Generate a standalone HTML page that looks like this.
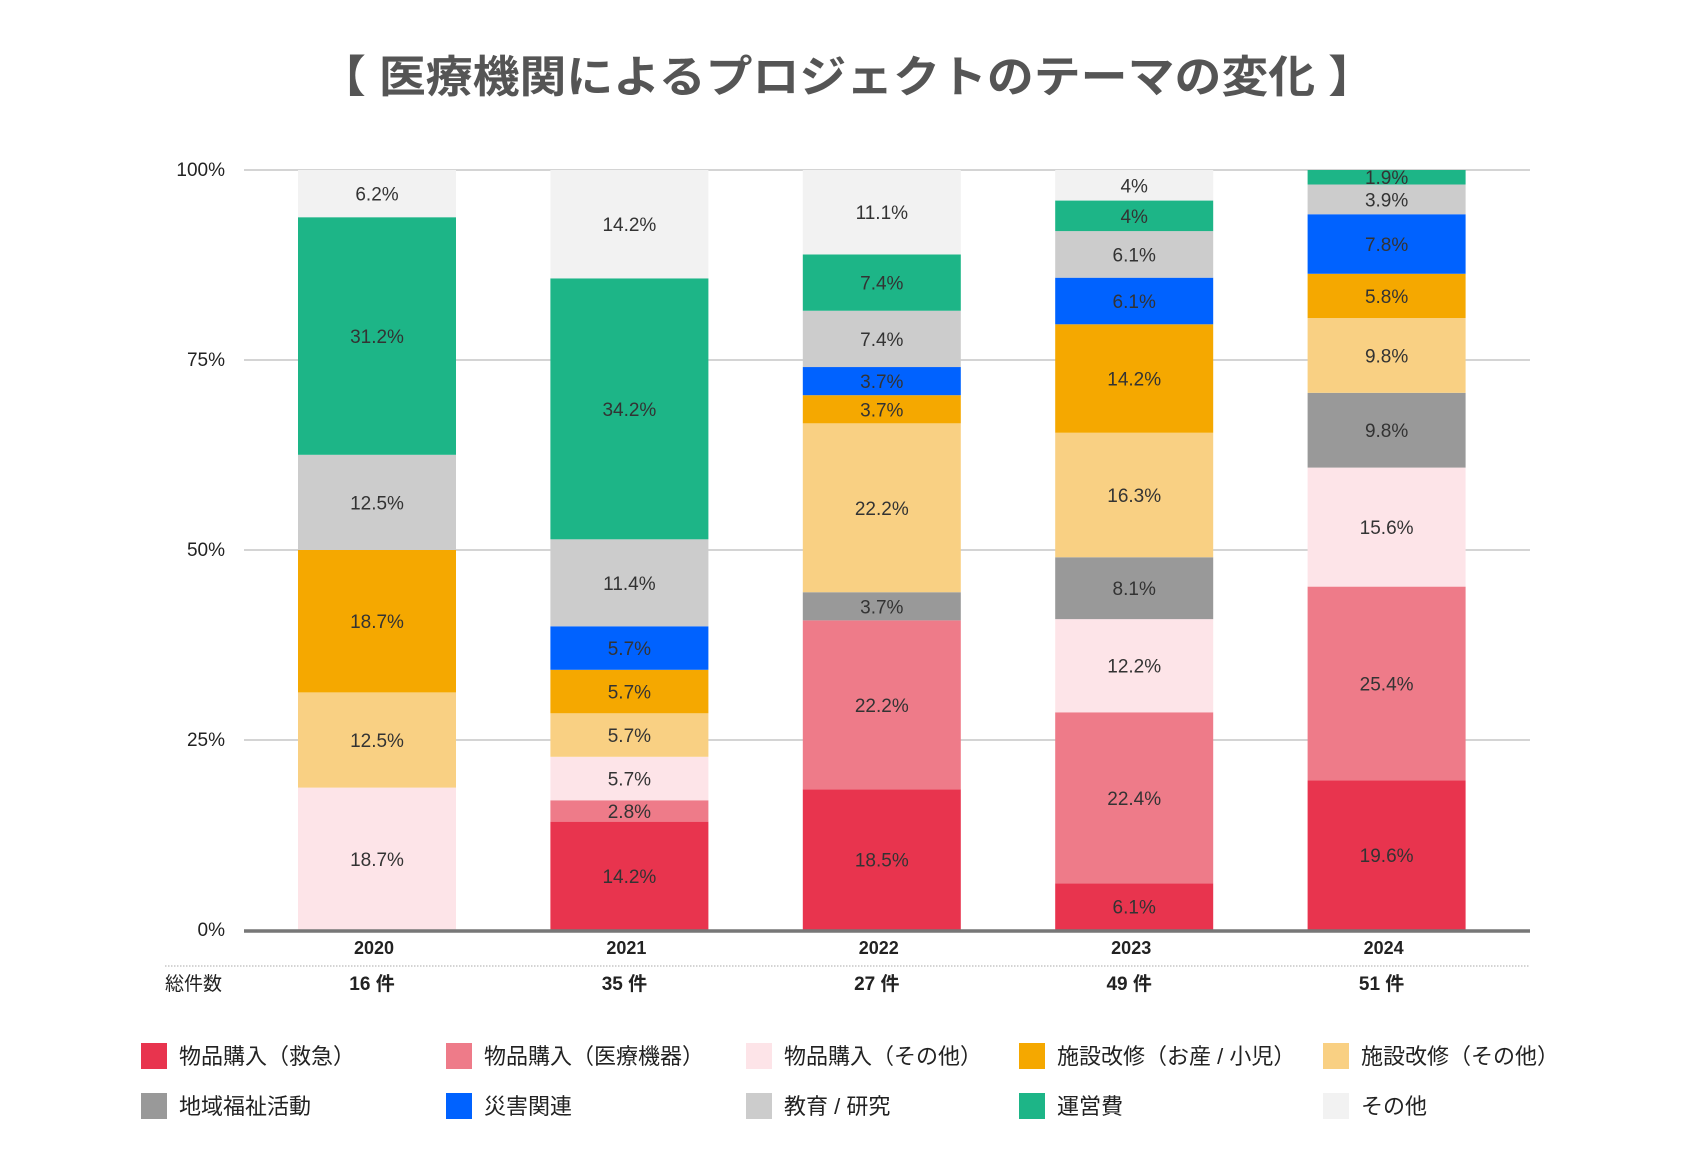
<!DOCTYPE html>
<html><head><meta charset="utf-8">
<style>
html,body{margin:0;padding:0;background:#fff;}
svg{display:block;font-family:"Liberation Sans","Noto Sans CJK JP",sans-serif;}
</style></head>
<body>
<svg id="chart" width="1693" height="1175" viewBox="0 0 1693 1175">
<text x="847" y="92" text-anchor="middle" font-size="44" font-weight="bold" fill="#555" textLength="1056" lengthAdjust="spacingAndGlyphs">【 医療機関によるプロジェクトのテーマの変化 】</text>
<g id="grid"></g>
<g id="bars"></g>
<g id="axis"></g>
<g id="legend"></g>
</svg>
<script>
const years = ["2020","2021","2022","2023","2024"];
const totals = ["16 件","35 件","27 件","49 件","51 件"];
const seriesNames = ["物品購入（救急）","物品購入（医療機器）","物品購入（その他）","地域福祉活動","施設改修（その他）","施設改修（お産 / 小児）","災害関連","教育 / 研究","運営費","その他"];
const seriesColors = ["#e8344e","#ee7b89","#fde4e8","#999999","#f9d083","#f5a800","#0062ff","#cccccc","#1db587","#f2f2f2"];
const legendOrder = [0,1,2,5,4,3,6,7,8,9];
const s_kyukyu = [0,14.2,18.5,6.1,19.6];
const s_iryo = [0,2.8,22.2,22.4,25.4];
const s_buppin = [18.7,5.7,0,12.2,15.6];
const s_chiiki = [0,0,3.7,8.1,9.8];
const s_shisetsu = [12.5,5.7,22.2,16.3,9.8];
const s_osan = [18.7,5.7,3.7,14.2,5.8];
const s_saigai = [0,5.7,3.7,6.1,7.8];
const s_kyoiku = [12.5,11.4,7.4,6.1,3.9];
const s_unei = [31.2,34.2,7.4,4,1.9];
const s_other = [6.2,14.2,11.1,4,0];
const series = [s_kyukyu,s_iryo,s_buppin,s_chiiki,s_shisetsu,s_osan,s_saigai,s_kyoiku,s_unei,s_other];
const valueLabels = [
 ["","14.2%","18.5%","6.1%","19.6%"],
 ["","2.8%","22.2%","22.4%","25.4%"],
 ["18.7%","5.7%","","12.2%","15.6%"],
 ["","","3.7%","8.1%","9.8%"],
 ["12.5%","5.7%","22.2%","16.3%","9.8%"],
 ["18.7%","5.7%","3.7%","14.2%","5.8%"],
 ["","5.7%","3.7%","6.1%","7.8%"],
 ["12.5%","11.4%","7.4%","6.1%","3.9%"],
 ["31.2%","34.2%","7.4%","4%","1.9%"],
 ["6.2%","14.2%","11.1%","4%",""]
];
const yTicks = [0,25,50,75,100];
const yTickLabels = ["0%","25%","50%","75%","100%"];

const NS="http://www.w3.org/2000/svg";
const Y0=930,Y100=170,X0=298,STEP=252.4,BW=158;
const yScale=v=>Y0-(Y0-Y100)*v/100;
const xScale=i=>X0+STEP*i;
function mk(tag,attrs,parent,text){const e=document.createElementNS(NS,tag);for(const k in attrs)e.setAttribute(k,attrs[k]);if(text!==undefined)e.textContent=text;parent.appendChild(e);return e;}
const grid=document.getElementById('grid'),bars=document.getElementById('bars'),axis=document.getElementById('axis'),legend=document.getElementById('legend');
yTicks.forEach((t,i)=>{
  if(t>0){const l=mk('line',{x1:244,x2:1530,y1:yScale(t),y2:yScale(t),stroke:'#bbb','stroke-width':1.2},grid);
  
  }
  const tx=mk('text',{x:225,y:yScale(t)+6,'text-anchor':'end','font-size':19,fill:'#222'},grid,yTickLabels[i]);
  
  
});
years.forEach((yr,i)=>{
  let total=0;series.forEach(s=>total+=s[i]);
  let cum=0;const x=xScale(i);
  series.forEach((s,k)=>{
    const v=s[i];if(v<=0)return;
    const yt=yScale((cum+v)/total*100),yb=yScale(cum/total*100);cum+=v;
    const r=mk('rect',{x:x,y:yt,width:BW,height:yb-yt,fill:seriesColors[k]},bars);
    
    
    if(valueLabels[k][i]){const t=mk('text',{x:x+BW/2,y:(yt+yb)/2+7,'text-anchor':'middle','font-size':19,fill:'#333'},bars,valueLabels[k][i]);
    
    }
  });
  const yl=mk('text',{x:x+BW/2-3,y:954,'text-anchor':'middle','font-size':18,'font-weight':'bold',fill:'#222'},axis,yr);
  
  
  const cl=mk('text',{x:x+BW/2-5,y:990,'text-anchor':'middle','font-size':19,'font-weight':'bold',fill:'#222'},axis,totals[i]);
  
  
});
const ax=mk('line',{x1:244,x2:1530,y1:Y0+1,y2:Y0+1,stroke:'#777','stroke-width':3.5},axis);


const dl=mk('line',{x1:165,x2:1530,y1:966,y2:966,stroke:'#aaa','stroke-width':1,'stroke-dasharray':'1.5 1.5'},axis);


const tl=mk('text',{x:165,y:990,'font-size':19,fill:'#222'},axis,'総件数');


const legX=[141,446,746,1019,1323];
legendOrder.forEach((k,pos)=>{
  const row=pos<5?0:1,col=pos%5;
  const cy=row?1106:1056;
  const g=mk('g',{},legend);
  
  
  mk('rect',{x:legX[col],y:cy-13,width:26,height:26,fill:seriesColors[k]},g);
  mk('text',{x:legX[col]+38,y:cy+8,'font-size':22,fill:'#222'},g,seriesNames[k]);
});
</script>
</body></html>
